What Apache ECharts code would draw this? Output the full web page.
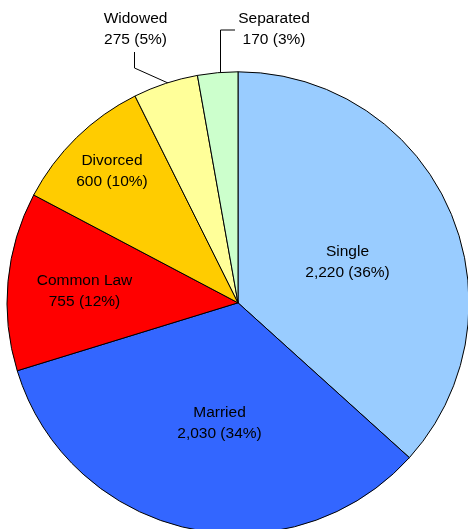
<!DOCTYPE html>
<html>
<head>
<meta charset="utf-8">
<script src="https://cdn.jsdelivr.net/npm/echarts@6/dist/echarts.min.js"></script>
<style>
html,body{margin:0;padding:0;background:#fff;}
#chart{width:468px;height:529px;}
</style>
</head>
<body>
<div id="chart"></div>
<script>
const categories = ['Single', 'Married', 'Common Law', 'Divorced', 'Widowed', 'Separated'];
const counts = [2220, 2030, 755, 600, 275, 170];
const percentLabels = [36, 34, 12, 10, 5, 3];

const colors = ['#99CCFF', '#3366FF', '#FF0000', '#FFCC00', '#FFFF99', '#CCFFCC'];
const outsideSet = { 'Widowed': true, 'Separated': true };

// label centre positions (layout only)
const labelPos = {
  'Single': [347.5, 262],
  'Married': [219.5, 423],
  'Common Law': [84.5, 291],
  'Divorced': [112, 171],
  'Widowed': [135.5, 29.5],
  'Separated': [274, 29.5]
};
const linePts = {
  'Widowed': [[168, 83], [134.5, 68], [134.5, 52]],
  'Separated': [[220.5, 72.5], [220.5, 30], [235, 30]]
};

function fmt(n) { return n.toLocaleString('en-US'); }

const data = categories.map((c, i) => ({
  name: c,
  value: counts[i],
  itemStyle: { color: colors[i] },
  label: { position: outsideSet[c] ? 'outside' : 'inside' },
  labelLine: { show: !!outsideSet[c] }
}));

const chart = echarts.init(document.getElementById('chart'), null, { renderer: 'canvas' });
chart.setOption({
  animation: false,
  backgroundColor: '#ffffff',
  series: [{
    type: 'pie',
    center: [238, 302.8],
    radius: [0, 231],
    startAngle: 90,
    clockwise: true,
    avoidLabelOverlap: false,
    itemStyle: { borderColor: '#000', borderWidth: 1 },
    emphasis: { disabled: true },
    label: {
      show: true,
      color: '#000',
      fontFamily: 'Liberation Sans, Arial, sans-serif',
      fontSize: 15.5,
      lineHeight: 21,
      formatter: p => p.name + '\n' + fmt(p.value) + ' (' + percentLabels[p.dataIndex] + '%)'
    },
    labelLine: { lineStyle: { color: '#000', width: 1 }, smooth: false },
    labelLayout: function (params) {
      const name = categories[params.dataIndex];
      const pos = labelPos[name];
      const r = { x: pos[0], y: pos[1], align: 'center', verticalAlign: 'middle' };
      if (linePts[name]) r.labelLinePoints = linePts[name];
      return r;
    },
    data: data
  }]
});
</script>
</body>
</html>
